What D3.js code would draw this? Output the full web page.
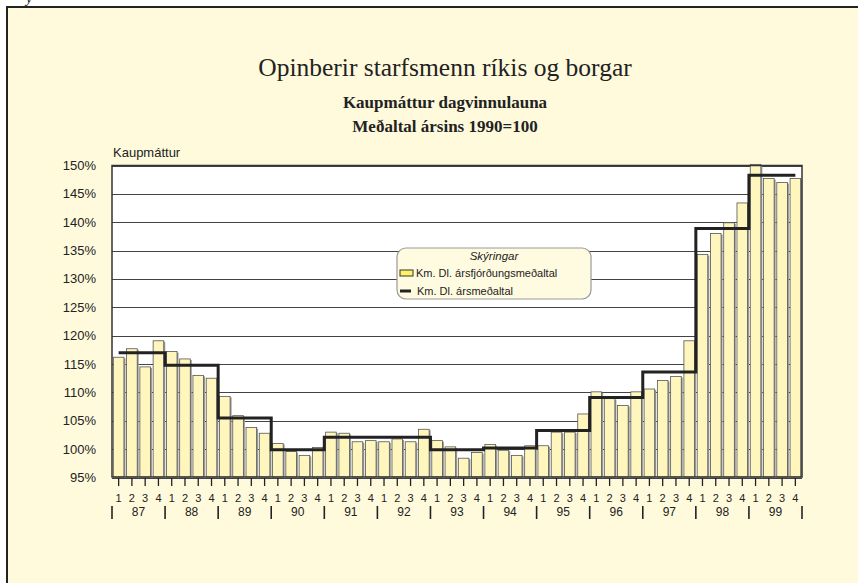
<!DOCTYPE html>
<html>
<head>
<meta charset="utf-8">
<script src="https://cdn.jsdelivr.net/npm/d3@7"></script>
<style>
  body { margin: 0; background: #fff; }
  svg text { font-family: "Liberation Sans", Arial, sans-serif; }
</style>
</head>
<body>
<div id="chart"></div>
<script>
// data
var years = ["87", "88", "89", "90", "91", "92", "93", "94", "95", "96", "97", "98", "99"];
var quarterLabels = ["1", "2", "3", "4"];
var quarterValues = [
  116.2, 117.7, 114.5, 119.1,
  117.2, 115.9, 113.0, 112.5,
  109.3, 105.9, 103.8, 102.8,
  101.0, 99.6, 98.9, 100.3,
  103.0, 102.8, 101.3, 101.5,
  101.3, 101.8, 101.3, 103.5,
  101.5, 100.4, 98.4, 99.4,
  100.8, 99.8, 98.9, 100.6,
  100.6, 103.0, 103.0, 106.2,
  110.1, 108.9, 107.7, 110.1,
  110.6, 112.1, 112.8, 119.1,
  134.3, 138.0, 139.9, 143.4,
  150.2, 147.7, 147.0, 147.7
];
var yearValues = [117.0, 114.8, 105.5, 99.9, 102.1, 102.1, 99.9, 100.2, 103.3, 109.1, 113.6, 138.9, 148.3];
var yTicks = [95, 100, 105, 110, 115, 120, 125, 130, 135, 140, 145, 150];

var W = 858, H = 583;
var margin = {top: 165.5, right: 56, bottom: 106, left: 112};

var svg = d3.select("#chart")
  .append("svg")
    .attr("width", W)
    .attr("height", H);

// cream page frame
svg.append("rect")
  .attr("x", 7).attr("y", 7)
  .attr("width", W + 10).attr("height", H + 10)
  .attr("fill", "#fffadc")
  .attr("stroke", "#222")
  .attr("stroke-width", 2);

svg.append("text")
  .attr("x", 26).attr("y", 3)
  .style("font-family", "Liberation Serif, serif")
  .style("font-size", "14px")
  .style("font-style", "italic")
  .attr("fill", "#222")
  .text("y");

// titles
svg.append("text")
  .attr("x", 445).attr("y", 76)
  .attr("text-anchor", "middle")
  .style("font-family", "Liberation Serif, serif")
  .style("font-size", "25.5px")
  .attr("fill", "#222")
  .text("Opinberir starfsmenn ríkis og borgar");

svg.append("text")
  .attr("x", 445).attr("y", 108)
  .attr("text-anchor", "middle")
  .style("font-family", "Liberation Serif, serif")
  .style("font-size", "17px")
  .style("font-weight", "bold")
  .attr("fill", "#222")
  .text("Kaupmáttur dagvinnulauna");

svg.append("text")
  .attr("x", 445).attr("y", 132)
  .attr("text-anchor", "middle")
  .style("font-family", "Liberation Serif, serif")
  .style("font-size", "17px")
  .style("font-weight", "bold")
  .attr("fill", "#222")
  .text("Meðaltal ársins 1990=100");

var x0 = margin.left, x1 = W - margin.right;
var y0 = H - margin.bottom, y1 = margin.top;

var idx = d3.range(quarterValues.length);
var x = d3.scaleBand()
  .domain(idx)
  .range([x0, x1])
  .paddingInner(0.2)
  .paddingOuter(0.1);
var y = d3.scaleLinear()
  .domain([95, 150])
  .range([y0 + 0.5, y1]);

var g = svg.append("g");

// plot area
g.append("rect")
  .attr("x", x0).attr("y", y1)
  .attr("width", x1 - x0).attr("height", y0 - y1)
  .attr("fill", "#fff");

// gridlines
g.selectAll(".grid")
  .data(yTicks)
  .enter()
  .append("line")
    .attr("x1", x0).attr("x2", x1)
    .attr("y1", function(d) { return Math.round(y(d)) + 0.5; })
    .attr("y2", function(d) { return Math.round(y(d)) + 0.5; })
    .attr("stroke", "#444")
    .attr("stroke-width", 1.2);

// y labels
g.selectAll(".ylab")
  .data(yTicks)
  .enter()
  .append("text")
    .attr("x", 96)
    .attr("y", function(d) { return y(d) + 4.5; })
    .attr("text-anchor", "end")
    .style("font-size", "13px")
    .attr("fill", "#222")
    .text(function(d) { return d + "%"; });

g.append("text")
  .attr("x", 113).attr("y", 157)
  .style("font-size", "13px")
  .attr("fill", "#222")
  .text("Kaupmáttur");

// bars: shadow then bar
g.selectAll(".shadow")
  .data(idx)
  .enter()
  .append("rect")
    .attr("x", function(i) { return x(i) + 1.5; })
    .attr("y", function(i) { return y(quarterValues[i]) + 1; })
    .attr("width", x.bandwidth())
    .attr("height", function(i) { return y0 - y(quarterValues[i]) - 1; })
    .attr("fill", "#999");

g.selectAll(".bar")
  .data(idx)
  .enter()
  .append("rect")
    .attr("x", function(i) { return x(i); })
    .attr("y", function(i) { return y(quarterValues[i]); })
    .attr("width", x.bandwidth())
    .attr("height", function(i) { return y0 - y(quarterValues[i]); })
    .attr("fill", "#fff6be")
    .attr("stroke", "#555")
    .attr("stroke-width", 0.8);

// annual average step line
var step = x.step();
var pts = [];
yearValues.forEach(function(v, k) {
  var a = k === 0 ? x(0) + x.bandwidth() / 2 : x0 + k * 4 * step;
  var b = k === yearValues.length - 1 ? x(idx.length - 1) + x.bandwidth() / 2 : x0 + (k + 1) * 4 * step;
  pts.push([a, y(v)], [b, y(v)]);
});
g.append("path")
  .datum(pts)
  .attr("d", d3.line())
  .attr("fill", "none")
  .attr("stroke", "#222")
  .attr("stroke-width", 3);

// plot borders
g.append("rect")
  .attr("x", x0).attr("y", y1)
  .attr("width", x1 - x0).attr("height", y0 - y1)
  .attr("fill", "none")
  .attr("stroke", "#333")
  .attr("stroke-width", 1.5);

// x axis: quarter ticks and labels
g.selectAll(".xtick")
  .data(idx)
  .enter()
  .append("line")
    .attr("x1", function(i) { return x(i) + x.bandwidth() / 2; })
    .attr("x2", function(i) { return x(i) + x.bandwidth() / 2; })
    .attr("y1", y0 + 1).attr("y2", y0 + 9)
    .attr("stroke", "#222")
    .attr("stroke-width", 1.3);

g.selectAll(".qlab")
  .data(idx)
  .enter()
  .append("text")
    .attr("x", function(i) { return x(i) + x.bandwidth() / 2; })
    .attr("y", 502)
    .attr("text-anchor", "middle")
    .style("font-size", "11px")
    .attr("fill", "#222")
    .text(function(i) { return quarterLabels[i % 4]; });

// year separators and labels
g.selectAll(".ysep")
  .data(d3.range(years.length + 1))
  .enter()
  .append("line")
    .attr("x1", function(k) { return x0 + k * 4 * step; })
    .attr("x2", function(k) { return x0 + k * 4 * step; })
    .attr("y1", 506).attr("y2", 519)
    .attr("stroke", "#222")
    .attr("stroke-width", 1.6);

g.selectAll(".yrlab")
  .data(years)
  .enter()
  .append("text")
    .attr("x", function(d, k) { return x0 + (k + 0.5) * 4 * step; })
    .attr("y", 516)
    .attr("text-anchor", "middle")
    .style("font-size", "12px")
    .attr("fill", "#222")
    .text(function(d) { return d; });

// legend
var lg = svg.append("g").attr("transform", "translate(397,248)");
lg.append("rect")
  .attr("width", 194).attr("height", 51)
  .attr("rx", 9).attr("ry", 9)
  .attr("fill", "#fffbe0")
  .attr("stroke", "#999")
  .attr("stroke-width", 1.2);
lg.append("text")
  .attr("x", 97).attr("y", 12)
  .attr("text-anchor", "middle")
  .style("font-size", "11.5px")
  .style("font-style", "italic")
  .attr("fill", "#222")
  .text("Skýringar");
lg.append("rect")
  .attr("x", 3).attr("y", 22)
  .attr("width", 13).attr("height", 6)
  .attr("fill", "#fff266")
  .attr("stroke", "#333")
  .attr("stroke-width", 1);
lg.append("text")
  .attr("x", 19).attr("y", 29)
  .style("font-size", "11px")
  .attr("fill", "#222")
  .text("Km. Dl. ársfjórðungsmeðaltal");
lg.append("line")
  .attr("x1", 3).attr("x2", 14)
  .attr("y1", 43).attr("y2", 43)
  .attr("stroke", "#222")
  .attr("stroke-width", 3);
lg.append("text")
  .attr("x", 20).attr("y", 47)
  .style("font-size", "11px")
  .attr("fill", "#222")
  .text("Km. Dl. ársmeðaltal");
</script>
</body>
</html>
